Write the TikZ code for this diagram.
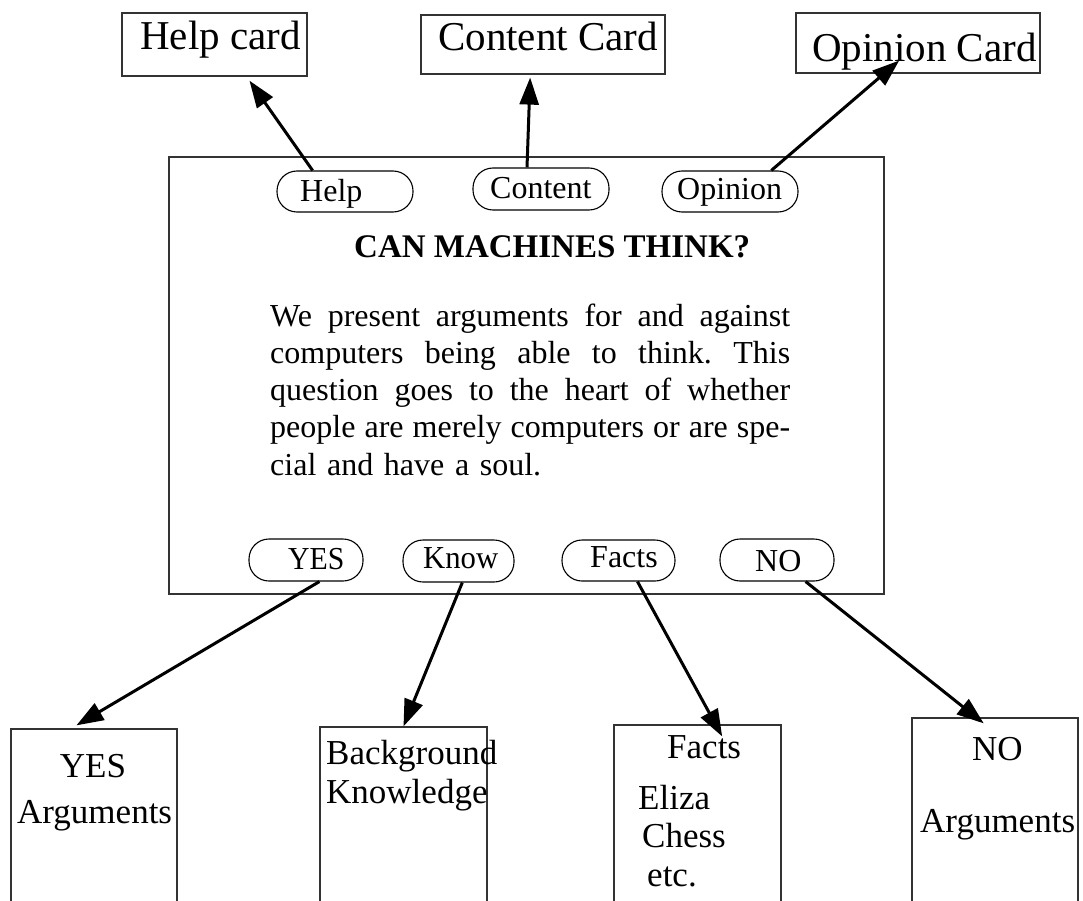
\documentclass[tikz,border=0pt]{standalone}
\usepackage{fontspec}
\usepackage{graphicx}
\setmainfont{Liberation Serif}
\usetikzlibrary{arrows.meta}

% one justified line of the screen text, spread to the full measure
\newcommand\fullline[1]{\leavevmode\hbox to 520pt{\spaceskip=0.25em plus 1fil\xspaceskip=\spaceskip\relax #1}}

\tikzset{
  frame/.style={draw=black!80, line width=1.2pt, inner sep=0pt},
  pill/.style={draw=black, line width=1.1pt, rounded corners=20pt, inner sep=0pt},
  cardtxt/.style={inner sep=0pt, anchor=base west, font=\fontsize{41}{49}\selectfont},
  pilltxt/.style={inner sep=0pt, anchor=base west, font=\fontsize{32}{38}\selectfont},
  boxtxt/.style={inner sep=0pt, anchor=base west, font=\fontsize{35}{42}\selectfont},
  arr/.style={line width=3pt, -{Triangle[length=27pt,width=19pt]}}
}

\begin{document}
\begin{tikzpicture}[x=1pt,y=-1pt]
\useasboundingbox (0,0) rectangle (1083,901);
\clip (0,0) rectangle (1083,901);

% cards at the top
\node[frame, minimum width=185pt, minimum height=63pt] (helpC) at (214.5,44.5) {};
\node[frame, minimum width=244pt, minimum height=59pt] (contC) at (543,44.5) {};
\node[frame, minimum width=244pt, minimum height=60pt] (opinC) at (918,43) {};
\node[cardtxt] (helpCt) at (140,50) {Help card};
\node[cardtxt] (contCt) at (438,51) {Content Card};
\node[cardtxt] (opinCt) at (812,62) {Opinion Card};

% main screen
\node[frame, minimum width=715pt, minimum height=437pt] (screen) at (526.5,375.5) {};

% buttons along the top of the screen
\node[pill, minimum width=136pt, minimum height=41pt] (helpP) at (345,191.5) {};
\node[pill, minimum width=136pt, minimum height=42pt] (contP) at (541,189) {};
\node[pill, minimum width=136pt, minimum height=41pt] (opinP) at (730,191.5) {};
\node[pilltxt] (helpPt) at (300,202) {Help};
\node[pilltxt] (contPt) at (490,199) {Content};
\node[pilltxt] (opinPt) at (677,200) {Opinion};

% title and text of the screen
\node[inner sep=0pt, anchor=base west, font=\fontsize{33}{40}\selectfont\bfseries] (title) at (354,257) {CAN MACHINES THINK?};
\node[inner sep=0pt, anchor=base west, text width=520pt, align=left,
      font=\fontsize{32}{37.3}\selectfont] (para) at (270,326)
  {\fullline{We present arguments for and against}\\
   \fullline{computers being able to think. This}\\
   \fullline{question goes to the heart of whether}\\
   \fullline{people are merely computers or are spe-}\\
   cial and have a soul.};

% buttons along the bottom of the screen
\node[pill, minimum width=114pt, minimum height=42pt] (yesP) at (306,560) {};
\node[pill, minimum width=111pt, minimum height=42pt] (knowP) at (458.5,561) {};
\node[pill, minimum width=113pt, minimum height=41pt] (factP) at (618.5,560.5) {};
\node[pill, minimum width=114pt, minimum height=42pt] (noP) at (777,560) {};
\node[pilltxt] (yesPt) at (288,569) {\scalebox{0.93}[1]{YES}};
\node[pilltxt] (knowPt) at (423,568) {\scalebox{0.96}[1]{Know}};
\node[pilltxt] (factPt) at (590,567) {Facts};
\node[pilltxt] (noPt) at (755,571) {NO};

% cards below the screen
\node[frame, minimum width=166pt, minimum height=181pt] (yesB) at (94,819.5) {};
\node[frame, minimum width=167pt, minimum height=183pt] (knowB) at (403.5,818.5) {};
\node[frame, minimum width=167pt, minimum height=185pt] (factB) at (697.5,817.5) {};
\node[frame, minimum width=166pt, minimum height=192pt] (noB) at (995,814) {};

\node[boxtxt, anchor=base] (yesBt1) at (93,777) {YES};
\node[boxtxt] (yesBt2) at (17,823) {Arguments};
\node[boxtxt] (knowBt1) at (326,764) {Background};
\node[boxtxt] (knowBt2) at (326,803) {Knowledge};
\node[boxtxt] (factBt1) at (667,758) {Facts};
\node[boxtxt] (factBt2) at (638,809) {Eliza};
\node[boxtxt] (factBt3) at (642,847) {Chess};
\node[boxtxt] (factBt4) at (647,886) {etc.};
\node[boxtxt] (noBt1) at (972,760) {NO};
\node[boxtxt] (noBt2) at (920,832) {Arguments};

% links from the buttons to their cards
\draw[arr, shorten >=5pt]   (helpP.147.4) -- (helpC.-45.8);
\draw[arr, shorten >=3pt]   (contP.123.7) -- (contC.-113.6);
\draw[arr, shorten >=-20pt] (opinP.27.6)  -- (opinC.-138.0);
\draw[arr, shorten >=6pt]   (yesP.-58.8)  -- (yesB.104.9);
\draw[arr]                  (knowP.-80.5) -- (knowB.north);
\draw[arr, shorten >=-13.7pt] (factP.-48.7) -- (factB.79.0);
\draw[arr, shorten >=-9.6pt]  (noP.-37.6)   -- (noB.101.5);
\end{tikzpicture}
\end{document}
